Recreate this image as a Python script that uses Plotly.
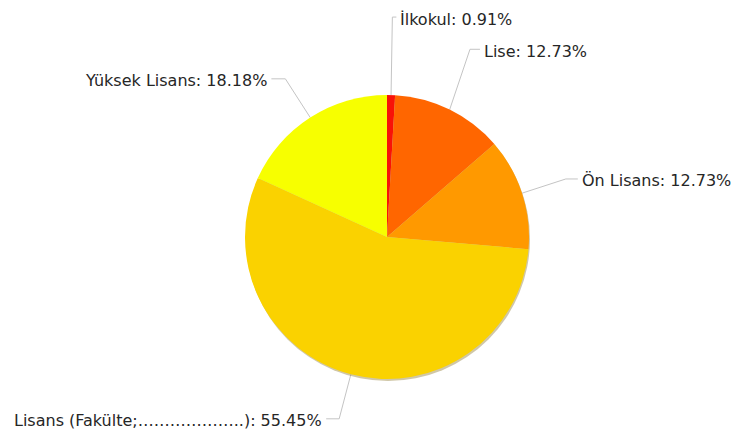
import math
import plotly.graph_objects as go

# Education level distribution (share of respondents, %)
categories = ["İlkokul", "Lise", "Ön Lisans", "Lisans (Fakülte;………………..)", "Yüksek Lisans"]
shares = [0.91, 12.73, 12.73, 55.45, 18.18]
colors = ["#F81208", "#FF6600", "#FF9900", "#FAD200", "#F7FF00"]

# Label layout: vertical lift of crowded labels and length of the horizontal link (px)
label_lift = [32, 19, 0, 0, 0]
link_len = [4, 10, 12, 13, 14]

W, H = 734, 437
cx, cy, r = 387, 237, 142
elbow_r = r * 1.324
font = dict(family="DejaVu Sans", size=16, color="#262626")

fig = go.Figure()

# Soft drop shadow under the pie
sx, sy = 1, 2
fig.add_trace(go.Pie(
    values=[1], marker=dict(colors=["rgba(150,130,60,0.45)"], line=dict(width=0)),
    textinfo="none", hoverinfo="skip", showlegend=False, sort=False,
    domain=dict(x=[(cx - r + sx) / W, (cx + r + sx) / W],
                y=[(H - cy - r - sy) / H, (H - cy + r - sy) / H]),
))

fig.add_trace(go.Pie(
    labels=categories, values=shares,
    marker=dict(colors=colors, line=dict(width=0)),
    sort=False, direction="clockwise", rotation=0,
    textinfo="none", showlegend=False,
    hovertemplate="%{label}: %{value}%<extra></extra>",
    domain=dict(x=[(cx - r) / W, (cx + r) / W],
                y=[(H - cy - r) / H, (H - cy + r) / H]),
))

# Leader lines and outside labels, placed at each slice's mid angle
total = sum(shares)
acc = 0.0
annotations = []
for name, v, lift, hl in zip(categories, shares, label_lift, link_len):
    mid = (acc + v / 2) / total * 2 * math.pi
    acc += v
    s, c = math.sin(mid), math.cos(mid)
    x0, y0 = cx + r * s, cy - r * c
    ex, ey = cx + elbow_r * s, cy - elbow_r * c - lift
    side = 1 if s >= 0 else -1
    hx = ex + side * hl
    fig.add_trace(go.Scatter(
        x=[x0, ex, hx], y=[y0, ey, ey], mode="lines",
        line=dict(color="#C4C4C4", width=1), hoverinfo="skip", showlegend=False,
    ))
    annotations.append(dict(
        x=hx + side * 2, y=ey + 2, xref="x", yref="y",
        text=f"{name}: {v:.2f}%", showarrow=False, font=font,
        xanchor="left" if side > 0 else "right", yanchor="middle",
    ))

fig.update_layout(
    width=W, height=H, margin=dict(l=0, r=0, t=0, b=0),
    paper_bgcolor="white", plot_bgcolor="rgba(0,0,0,0)",
    xaxis=dict(range=[0, W], visible=False, fixedrange=True),
    yaxis=dict(range=[H, 0], visible=False, fixedrange=True),
    annotations=annotations,
)

fig.write_html("out.html")
